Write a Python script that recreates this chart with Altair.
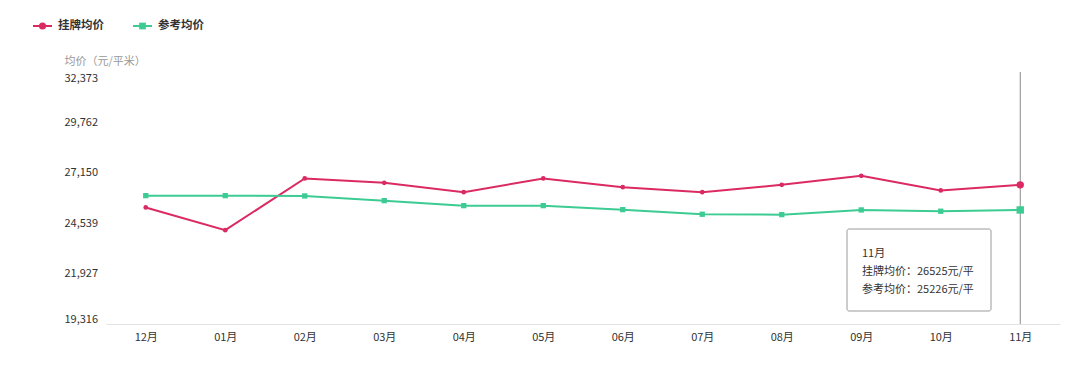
import altair as alt
import pandas as pd

months = ["12月", "01月", "02月", "03月", "04月", "05月", "06月", "07月", "08月", "09月", "10月", "11月"]
listing = [25354, 24178, 26857, 26629, 26147, 26857, 26406, 26147, 26525, 26991, 26235, 26525]
reference = [25967, 25967, 25951, 25708, 25449, 25449, 25242, 25003, 24983, 25226, 25159, 25226]
y_ticks = [19316, 21927.4, 24538.8, 27150.2, 29761.6, 32373]
series_names = ["挂牌均价", "参考均价"]
colors = ["#db2a61", "#3ccb93"]
y_title = "均价（元/平米）"
unit = "元/平"

FONT = "Noto Sans CJK SC"
W, H = 954, 252

rows = []
for m, a, b in zip(months, listing, reference):
    rows.append({"month": m, "series": series_names[0], "value": a})
    rows.append({"month": m, "series": series_names[1], "value": b})
df = pd.DataFrame(rows)

x_scale = alt.Scale(type="point", padding=0.5, domain=months)
x_enc = alt.X("month:O", scale=x_scale,
              axis=alt.Axis(title=None, labelAngle=0, ticks=False, domainColor="#e3e3e3",
                            labelColor="#333333", labelFontSize=11, labelPadding=7,
                            labelFont=FONT, labelAlign="center"))
y_enc = alt.Y("value:Q", scale=alt.Scale(domain=[y_ticks[0], y_ticks[-1]], nice=False, zero=False),
              axis=alt.Axis(title=y_title, values=y_ticks, format=",.0f", grid=False, domain=False,
                            ticks=False, labelFlush=True, labelAlign="left", labelPadding=42,
                            labelColor="#333333", labelFontSize=11, labelFont=FONT,
                            titleAngle=0, titleX=-42, titleY=-11, titleAlign="left",
                            titleBaseline="middle", titleColor="#999999", titleFontSize=11,
                            titleFontWeight="normal", titleFont=FONT))
color_enc = alt.Color("series:N", scale=alt.Scale(domain=series_names, range=colors), legend=None)

hover_month = months[-1]
rule = alt.Chart(pd.DataFrame({"month": [hover_month]})).mark_rule(color="#8a8a8a", strokeWidth=1).encode(
    x=x_enc, y=alt.value(0), y2=alt.value(H))

lines = alt.Chart(df).mark_line(strokeWidth=2).encode(x=x_enc, y=y_enc, color=color_enc, detail="series:N")

df_a = df[df.series == series_names[0]]
df_b = df[df.series == series_names[1]]


def pts(d, shape, size):
    return alt.Chart(d).mark_point(shape=shape, filled=True, size=size, opacity=1).encode(
        x=x_enc, y=y_enc, color=color_enc)


pts_a = pts(df_a[df_a.month != hover_month], "circle", 22)
pts_b = pts(df_b[df_b.month != hover_month], "square", 28)
hov_a = pts(df_a[df_a.month == hover_month], "circle", 55)
hov_b = pts(df_b[df_b.month == hover_month], "square", 55)

# legend
leg = []
for i, (name, col, shp) in enumerate(zip(series_names, colors, ["circle", "square"])):
    x0 = -73 + i * 100
    d = pd.DataFrame({"s": [name]})
    leg.append(alt.Chart(d).mark_rule(color=col, strokeWidth=2).encode(
        x=alt.value(x0), x2=alt.value(x0 + 19), y=alt.value(-46)))
    leg.append(alt.Chart(d).mark_point(shape=shp, filled=True, size=50 if shp == "circle" else 45,
                                       color=col, opacity=1).encode(
        x=alt.value(x0 + 9.5), y=alt.value(-46)))
    leg.append(alt.Chart(d).mark_text(align="left", baseline="middle", font=FONT,
                                      fontSize=11.5, fontWeight="bold", color="#333333").encode(
        x=alt.value(x0 + 25), y=alt.value(-46), text="s:N"))

# tooltip
box = alt.Chart(pd.DataFrame({"k": [0]})).mark_rect(fill="white", stroke="#9a9a9a", strokeWidth=1,
                                                      cornerRadius=2).encode(
    x=alt.value(741), x2=alt.value(885), y=alt.value(157), y2=alt.value(239))
tip_text = "\n".join([hover_month,
                      f"{series_names[0]}：{listing[-1]}{unit}",
                      f"{series_names[1]}：{reference[-1]}{unit}"])
tip = alt.Chart(pd.DataFrame({"t": [tip_text]})).mark_text(
    align="left", baseline="middle", font=FONT, fontSize=11, color="#333333",
    lineBreak="\n", lineHeight=18).encode(
    x=alt.value(756), y=alt.value(182), text="t:N")

chart = alt.layer(rule, lines, pts_a, pts_b, hov_a, hov_b, box, tip, *leg).properties(
    width=W, height=H,
    padding={"left": 98, "top": 64, "right": 12, "bottom": 40},
    autosize=alt.AutoSizeParams(type="none"),
    background="white",
).configure_view(stroke=None)

chart.save("out.html", embed_options={"renderer": "svg", "actions": False})
